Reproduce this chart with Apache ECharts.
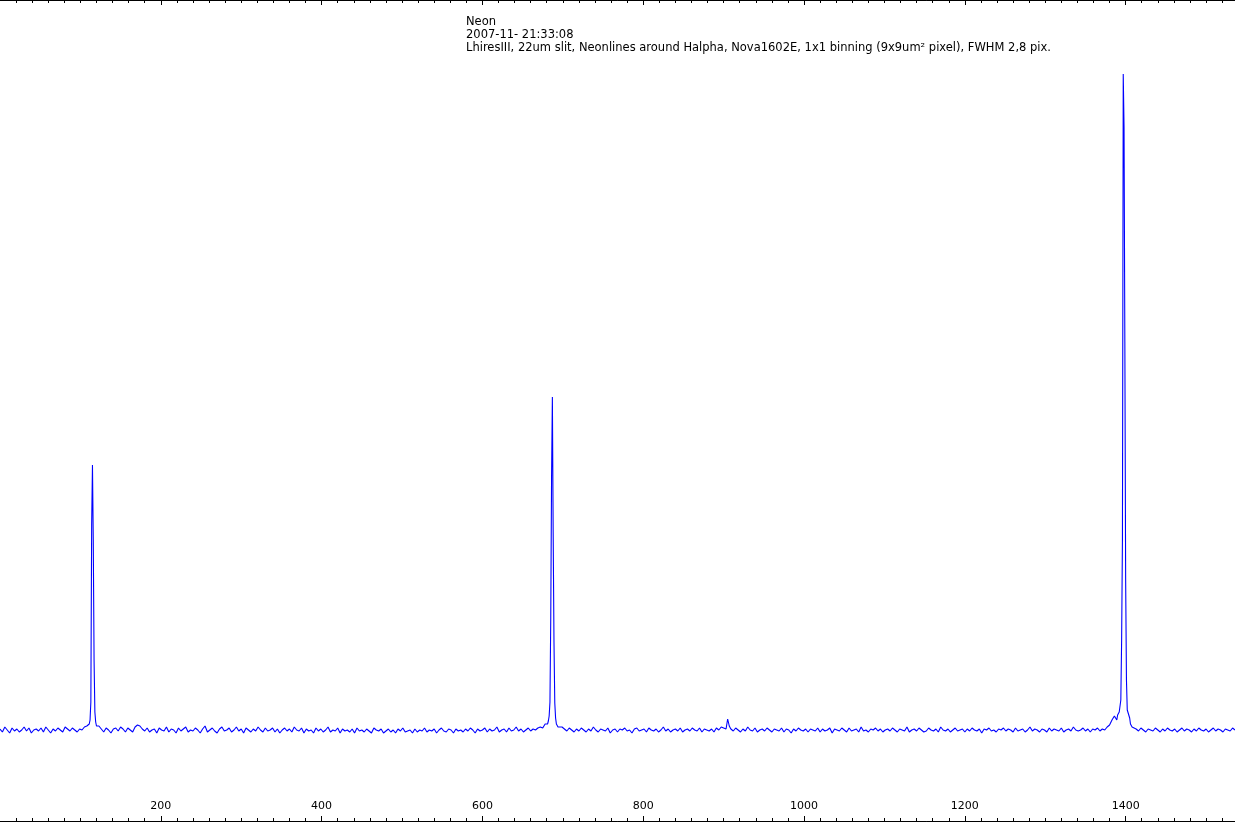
<!DOCTYPE html>
<html>
<head>
<meta charset="utf-8">
<script src="https://cdn.jsdelivr.net/npm/echarts@6/dist/echarts.min.js"></script>
<style>html,body{margin:0;padding:0;background:#fff;}#c{width:1235px;height:822px;}</style>
</head>
<body>
<div id="c"></div>
<script>
// ---- data (relative intensity above the continuum) ----
const titleLines = ['Neon', '2007-11- 21:33:08',
  'LhiresIII, 22um slit, Neonlines around Halpha, Nova1602E, 1x1 binning (9x9um\u00b2 pixel), FWHM 2,8 pix.'];
const majorTicks = [200, 400, 600, 800, 1000, 1200, 1400];
const xMin = 0, xMax = 1536, baseStep = 3;
// baseline noise sampled every 3 pixels from pixel 0
const baseY = [
  1,-2,3,0,-3,2,-1,1,-2,0,3,-1,2,-3,0,1,
  -1,2,-2,3,0,-3,1,-1,2,0,-2,3,1,-1,2,0,
  -2,1,0,3,4,6,20,8,5,4,1,-2,2,0,-3,1,
  2,-1,3,1,-2,2,0,-2,3,5,4,1,-1,2,-2,0,
  1,-3,2,0,-1,3,-2,1,0,-3,2,-1,1,3,-2,0,
  -1,2,0,-3,1,4,-2,0,2,-1,-3,1,3,-1,0,2,
  -2,0,3,-1,1,-3,2,0,-2,1,-1,3,0,-2,2,-1,
  0,2,-2,1,-3,0,2,-1,1,-2,3,0,-1,2,-3,1,
  -1,0,-3,2,-1,1,-2,0,3,-2,0,-1,2,-3,1,-1,
  0,-2,1,-3,2,-1,0,-2,1,-1,-3,2,0,-1,1,-3,
  -1,1,-2,0,-3,1,-1,2,-2,-1,0,-3,1,-2,0,-1,
  2,-2,0,-1,1,-3,0,2,-1,-2,1,0,-3,1,-1,0,
  -2,1,-1,2,0,-3,1,-1,0,2,-2,1,-1,0,3,-2,
  0,1,-2,2,-1,0,3,-1,1,-2,0,2,-1,1,0,2,
  3,2,6,0,0,0,0,0,5,3,1,-1,2,0,-2,1,
  -1,2,0,-2,1,-1,3,0,-2,1,0,-1,2,-3,0,1,
  -2,1,0,2,-1,0,-3,1,2,-1,0,1,-2,2,0,-1,
  1,-2,0,3,-1,1,-2,0,1,-1,2,-2,0,1,-1,2,
  0,-1,2,-2,1,0,-1,1,-2,2,0,3,2,0,0,1,
  -1,2,0,-2,1,-1,3,0,-1,2,-2,0,1,-1,2,0,
  -2,1,0,-1,2,-2,1,0,-3,1,-1,2,0,-1,1,-2,
  1,0,-1,2,-2,1,-1,0,2,-3,1,0,-1,2,0,-2,
  2,-1,0,1,-2,3,-1,0,-2,1,0,2,-1,1,-2,0,
  1,-1,2,0,-2,1,0,-1,3,-2,0,1,-1,2,0,-2,
  -1,2,0,-1,1,-2,3,0,-1,1,-2,0,2,-1,0,1,
  -2,1,-1,2,0,-1,1,-3,1,0,2,-1,0,-2,1,0,
  2,-1,1,0,-2,2,-1,0,1,-2,0,3,-1,1,0,-2,
  1,0,-2,2,-1,1,0,-1,2,-2,0,1,-1,3,0,-1,
  0,2,-1,1,-2,1,0,2,-1,1,0,3,5,10,14,0,
  0,0,0,0,0,0,2,1,-1,2,0,-2,1,0,-1,2,
  0,-2,1,-1,2,0,-1,1,-2,0,2,-1,1,0,-2,1,
  -1,2,0,-1,1,-2,0,2,-1,1,0,-2,1,0,-1,2,
  0
];
// emission lines, sampled every pixel
const line1X = [110,111,112,113,114,115,116,117,118,119,120];
const line1Y = [4,6,10,28,205,265,190,70,18,8,4];
const line2X = [680,681,682,683,684,685,686,687,688,689,690,691,692,694];
const line2Y = [4,6,9,14,28,113,253,333,197,88,27,12,6,3];
const line3X = [1388,1389,1390,1391,1392,1393,1394,1395,1396,1397,1398,1399,1400,1401,1402,1403,1404,1405,1406,1408];
const line3Y = [12,10,15,14,18,20,30,90,190,656,603,388,150,50,20,22,18,12,6,3];
const line4X = [903,905,907];
const line4Y = [1,11,4];

// ---- build the series ----
const blocks = [[line1X,line1Y],[line2X,line2Y],[line3X,line3Y],[line4X,line4Y]];
let pts = [];
baseY.forEach((v, i) => {
  const x = xMin + i * baseStep;
  const inside = blocks.some(b => x >= b[0][0] && x <= b[0][b[0].length - 1]);
  if (!inside) pts.push([x, v]);
});
blocks.forEach(b => b[0].forEach((x, i) => pts.push([x, b[1][i]])));
pts.sort((a, b) => a[0] - b[0]);

const minorTicks = [];
for (let t = 20; t < xMax; t += 20) if (t % 200 !== 0) minorTicks.push(t);

const font = 'DejaVu Sans';
const gridRect = {left: -1, right: -1, top: 0, bottom: 1};
function xAx(grid, pos, ticks, len, labels) {
  return {
    type: 'value', gridIndex: grid, position: pos, min: xMin, max: xMax,
    axisLine: {show: true, onZero: false, lineStyle: {color: '#000', width: 1}},
    axisTick: {show: true, inside: true, length: len, customValues: ticks, lineStyle: {color: '#000', width: 1}},
    axisLabel: labels ? {show: true, inside: true, margin: 9, customValues: majorTicks,
      formatter: v => String(v), color: '#000', fontFamily: font, fontSize: 11} : {show: false},
    splitLine: {show: false}, minorTick: {show: false}
  };
}
const chart = echarts.init(document.getElementById('c'), null, {renderer: 'canvas'});
chart.setOption({
  animation: false,
  backgroundColor: '#fff',
  title: {
    text: titleLines.join('\n'), left: 466, top: 16, padding: 0,
    textStyle: {fontFamily: font, fontSize: 11.5, fontWeight: 'normal', color: '#000', lineHeight: 13}
  },
  grid: [Object.assign({}, gridRect), Object.assign({}, gridRect)],
  xAxis: [
    xAx(0, 'bottom', majorTicks, 5, true),
    xAx(0, 'top', majorTicks, 5, false),
    xAx(1, 'bottom', minorTicks, 3, false),
    xAx(1, 'top', minorTicks, 3, false)
  ],
  yAxis: [
    {type: 'value', gridIndex: 0, min: -91, max: 730, show: false, splitLine: {show: false}},
    {type: 'value', gridIndex: 1, min: -91, max: 730, show: false, splitLine: {show: false}}
  ],
  series: [{
    type: 'line', xAxisIndex: 0, yAxisIndex: 0, data: pts,
    showSymbol: false, symbol: 'none',
    lineStyle: {color: '#0000ff', width: 1.1}, itemStyle: {color: '#0000ff'}
  }]
});
</script>
</body>
</html>
